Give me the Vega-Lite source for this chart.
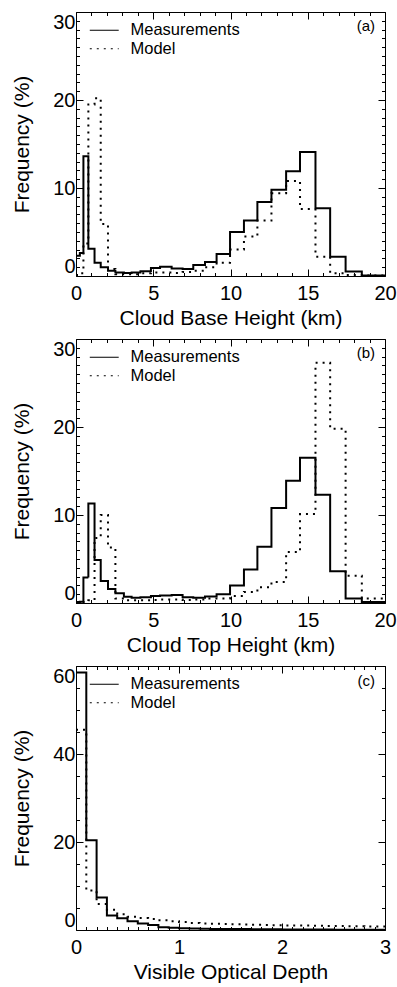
{
  "$schema": "https://vega.github.io/schema/vega-lite/v6.json",
  "background": "white",
  "padding": {"left": 11, "top": 10, "right": 5, "bottom": 2},
  "bounds": "flush",
  "spacing": 63,
  "config": {
    "font": "Liberation Sans",
    "view": {"stroke": null},
    "axis": {"grid": false, "domainColor": "black", "domainWidth": 1, "tickColor": "black", "tickWidth": 1, "labelColor": "black", "titleColor": "black", "labelFontSize": 20, "titleFontSize": 21, "titleFontWeight": "normal", "labelFlush": false, "labelOverlap": false, "format": "d"},
    "axisLeft": {"labelFlush": true, "labelFlushOffset": 0},
    "legend": {"orient": "none", "legendX": 20, "legendY": 10, "title": null, "symbolType": "M-3,0H3", "symbolSize": 93, "symbolStrokeWidth": 1.2, "symbolStrokeColor": "black", "symbolFillColor": "transparent", "labelFontSize": 16.5, "labelColor": "black", "labelOffset": 18, "rowPadding": 1.5, "padding": 0},
    "title": {"fontSize": 15, "fontWeight": "normal", "color": "black", "anchor": "end", "frame": "group", "dx": -10, "offset": -23.5}
  },
  "datasets": {
    "a_m": [
      {"s": "Measurements", "x": 0, "f": 2.3}, {"s": "Measurements", "x": 0.25, "f": 2.6}, {"s": "Measurements", "x": 0.48, "f": 13.6}, {"s": "Measurements", "x": 0.8, "f": 3.1}, {"s": "Measurements", "x": 1.2, "f": 1.5}, {"s": "Measurements", "x": 1.6, "f": 1.0}, {"s": "Measurements", "x": 2.07, "f": 0.6}, {"s": "Measurements", "x": 2.55, "f": 0.4}, {"s": "Measurements", "x": 3.1, "f": 0.35}, {"s": "Measurements", "x": 3.6, "f": 0.4}, {"s": "Measurements", "x": 4.17, "f": 0.55}, {"s": "Measurements", "x": 4.85, "f": 0.9}, {"s": "Measurements", "x": 5.44, "f": 1.05}, {"s": "Measurements", "x": 6.19, "f": 0.85}, {"s": "Measurements", "x": 6.9, "f": 0.8}, {"s": "Measurements", "x": 7.59, "f": 1.25}, {"s": "Measurements", "x": 8.35, "f": 1.6}, {"s": "Measurements", "x": 9.1, "f": 2.5}, {"s": "Measurements", "x": 9.97, "f": 5.0}, {"s": "Measurements", "x": 10.87, "f": 6.3}, {"s": "Measurements", "x": 11.74, "f": 8.4}, {"s": "Measurements", "x": 12.65, "f": 9.8}, {"s": "Measurements", "x": 13.6, "f": 11.9}, {"s": "Measurements", "x": 14.5, "f": 14.1}, {"s": "Measurements", "x": 15.5, "f": 7.7}, {"s": "Measurements", "x": 16.45, "f": 2.2}, {"s": "Measurements", "x": 17.45, "f": 0.5}, {"s": "Measurements", "x": 18.5, "f": 0.05}, {"s": "Measurements", "x": 20, "f": 0.05}
    ],
    "a_d": [
      {"s": "Model", "x": 0, "f": 0.1}, {"s": "Model", "x": 0.25, "f": 0.3}, {"s": "Model", "x": 0.48, "f": 3.7}, {"s": "Model", "x": 0.8, "f": 19.5}, {"s": "Model", "x": 1.2, "f": 20.2}, {"s": "Model", "x": 1.6, "f": 5.9}, {"s": "Model", "x": 2.07, "f": 0.8}, {"s": "Model", "x": 2.55, "f": 0.2}, {"s": "Model", "x": 3.1, "f": 0.2}, {"s": "Model", "x": 3.6, "f": 0.2}, {"s": "Model", "x": 4.17, "f": 0.3}, {"s": "Model", "x": 4.85, "f": 0.4}, {"s": "Model", "x": 5.44, "f": 0.4}, {"s": "Model", "x": 6.19, "f": 0.35}, {"s": "Model", "x": 6.9, "f": 0.45}, {"s": "Model", "x": 7.59, "f": 0.6}, {"s": "Model", "x": 8.35, "f": 1.0}, {"s": "Model", "x": 9.1, "f": 1.5}, {"s": "Model", "x": 9.97, "f": 3.0}, {"s": "Model", "x": 10.87, "f": 4.5}, {"s": "Model", "x": 11.74, "f": 6.3}, {"s": "Model", "x": 12.65, "f": 9.4}, {"s": "Model", "x": 13.6, "f": 10.8}, {"s": "Model", "x": 14.5, "f": 7.6}, {"s": "Model", "x": 15.5, "f": 2.2}, {"s": "Model", "x": 16.45, "f": 0.3}, {"s": "Model", "x": 17.45, "f": 0.1}, {"s": "Model", "x": 18.5, "f": 0.05}, {"s": "Model", "x": 20, "f": 0.05}
    ],
    "b_m": [
      {"s": "Measurements", "x": 0, "f": 0.1}, {"s": "Measurements", "x": 0.25, "f": 0.15}, {"s": "Measurements", "x": 0.48, "f": 2.9}, {"s": "Measurements", "x": 0.8, "f": 11.3}, {"s": "Measurements", "x": 1.2, "f": 4.9}, {"s": "Measurements", "x": 1.6, "f": 2.5}, {"s": "Measurements", "x": 2.07, "f": 1.6}, {"s": "Measurements", "x": 2.55, "f": 1.1}, {"s": "Measurements", "x": 3.1, "f": 0.7}, {"s": "Measurements", "x": 3.6, "f": 0.6}, {"s": "Measurements", "x": 4.17, "f": 0.65}, {"s": "Measurements", "x": 4.85, "f": 0.8}, {"s": "Measurements", "x": 5.44, "f": 0.85}, {"s": "Measurements", "x": 6.19, "f": 0.9}, {"s": "Measurements", "x": 6.9, "f": 0.65}, {"s": "Measurements", "x": 7.59, "f": 0.6}, {"s": "Measurements", "x": 8.35, "f": 0.75}, {"s": "Measurements", "x": 9.1, "f": 1.0}, {"s": "Measurements", "x": 9.97, "f": 2.0}, {"s": "Measurements", "x": 10.87, "f": 3.8}, {"s": "Measurements", "x": 11.74, "f": 6.4}, {"s": "Measurements", "x": 12.65, "f": 10.8}, {"s": "Measurements", "x": 13.6, "f": 13.9}, {"s": "Measurements", "x": 14.5, "f": 16.5}, {"s": "Measurements", "x": 15.5, "f": 12.3}, {"s": "Measurements", "x": 16.45, "f": 3.6}, {"s": "Measurements", "x": 17.45, "f": 0.5}, {"s": "Measurements", "x": 18.5, "f": 0.1}, {"s": "Measurements", "x": 20, "f": 0.1}
    ],
    "b_d": [
      {"s": "Model", "x": 0, "f": 0.05}, {"s": "Model", "x": 0.25, "f": 0.05}, {"s": "Model", "x": 0.48, "f": 0.1}, {"s": "Model", "x": 0.8, "f": 0.3}, {"s": "Model", "x": 1.2, "f": 7.4}, {"s": "Model", "x": 1.6, "f": 10.0}, {"s": "Model", "x": 2.07, "f": 6.3}, {"s": "Model", "x": 2.55, "f": 0.5}, {"s": "Model", "x": 3.1, "f": 0.3}, {"s": "Model", "x": 3.6, "f": 0.3}, {"s": "Model", "x": 4.17, "f": 0.3}, {"s": "Model", "x": 4.85, "f": 0.35}, {"s": "Model", "x": 5.44, "f": 0.4}, {"s": "Model", "x": 6.19, "f": 0.4}, {"s": "Model", "x": 6.9, "f": 0.35}, {"s": "Model", "x": 7.59, "f": 0.4}, {"s": "Model", "x": 8.35, "f": 0.5}, {"s": "Model", "x": 9.1, "f": 0.5}, {"s": "Model", "x": 9.97, "f": 0.8}, {"s": "Model", "x": 10.87, "f": 1.25}, {"s": "Model", "x": 11.74, "f": 1.8}, {"s": "Model", "x": 12.65, "f": 2.4}, {"s": "Model", "x": 13.6, "f": 5.8}, {"s": "Model", "x": 14.5, "f": 10.1}, {"s": "Model", "x": 15.5, "f": 27.3}, {"s": "Model", "x": 16.45, "f": 19.8}, {"s": "Model", "x": 17.45, "f": 3.1}, {"s": "Model", "x": 18.5, "f": 0.5}, {"s": "Model", "x": 20, "f": 0.5}
    ],
    "c_m": [
      {"s": "Measurements", "x": 0, "f": 58.5}, {"s": "Measurements", "x": 0.1, "f": 20.4}, {"s": "Measurements", "x": 0.2, "f": 7.4}, {"s": "Measurements", "x": 0.3, "f": 3.3}, {"s": "Measurements", "x": 0.4, "f": 2.65}, {"s": "Measurements", "x": 0.5, "f": 2.0}, {"s": "Measurements", "x": 0.6, "f": 1.5}, {"s": "Measurements", "x": 0.7, "f": 1.15}, {"s": "Measurements", "x": 0.8, "f": 0.65}, {"s": "Measurements", "x": 0.9, "f": 0.5}, {"s": "Measurements", "x": 1.0, "f": 0.4}, {"s": "Measurements", "x": 1.1, "f": 0.35}, {"s": "Measurements", "x": 1.2, "f": 0.3}, {"s": "Measurements", "x": 1.3, "f": 0.25}, {"s": "Measurements", "x": 1.4, "f": 0.25}, {"s": "Measurements", "x": 1.5, "f": 0.2}, {"s": "Measurements", "x": 1.6, "f": 0.2}, {"s": "Measurements", "x": 1.7, "f": 0.15}, {"s": "Measurements", "x": 1.8, "f": 0.15}, {"s": "Measurements", "x": 1.9, "f": 0.15}, {"s": "Measurements", "x": 2.0, "f": 0.1}, {"s": "Measurements", "x": 2.1, "f": 0.1}, {"s": "Measurements", "x": 2.2, "f": 0.1}, {"s": "Measurements", "x": 2.3, "f": 0.1}, {"s": "Measurements", "x": 2.4, "f": 0.1}, {"s": "Measurements", "x": 2.5, "f": 0.05}, {"s": "Measurements", "x": 2.6, "f": 0.05}, {"s": "Measurements", "x": 2.7, "f": 0.05}, {"s": "Measurements", "x": 2.8, "f": 0.05}, {"s": "Measurements", "x": 2.9, "f": 0.05}, {"s": "Measurements", "x": 3.0, "f": 0.05}
    ],
    "c_d": [
      {"s": "Model", "x": 0, "f": 45.5}, {"s": "Model", "x": 0.1, "f": 9.0}, {"s": "Model", "x": 0.2, "f": 5.9}, {"s": "Model", "x": 0.3, "f": 4.6}, {"s": "Model", "x": 0.4, "f": 3.6}, {"s": "Model", "x": 0.5, "f": 3.0}, {"s": "Model", "x": 0.6, "f": 2.7}, {"s": "Model", "x": 0.7, "f": 2.5}, {"s": "Model", "x": 0.8, "f": 2.2}, {"s": "Model", "x": 0.9, "f": 2.0}, {"s": "Model", "x": 1.0, "f": 1.8}, {"s": "Model", "x": 1.1, "f": 1.6}, {"s": "Model", "x": 1.2, "f": 1.5}, {"s": "Model", "x": 1.3, "f": 1.4}, {"s": "Model", "x": 1.4, "f": 1.35}, {"s": "Model", "x": 1.5, "f": 1.3}, {"s": "Model", "x": 1.6, "f": 1.25}, {"s": "Model", "x": 1.7, "f": 1.2}, {"s": "Model", "x": 1.8, "f": 1.15}, {"s": "Model", "x": 1.9, "f": 1.1}, {"s": "Model", "x": 2.0, "f": 1.05}, {"s": "Model", "x": 2.1, "f": 1.0}, {"s": "Model", "x": 2.2, "f": 1.0}, {"s": "Model", "x": 2.3, "f": 0.95}, {"s": "Model", "x": 2.4, "f": 0.9}, {"s": "Model", "x": 2.5, "f": 0.9}, {"s": "Model", "x": 2.6, "f": 0.85}, {"s": "Model", "x": 2.7, "f": 0.85}, {"s": "Model", "x": 2.8, "f": 0.8}, {"s": "Model", "x": 2.9, "f": 0.8}, {"s": "Model", "x": 3.0, "f": 0.8}
    ]
  },
  "resolve": {"scale": {"strokeDash": "independent"}, "legend": {"strokeDash": "independent"}},
  "vconcat": [
    {
      "width": 309, "height": 264,
      "title": {"text": "(a)"},
      "resolve": {"axis": {"x": "independent", "y": "independent"}},
      "layer": [
        {
          "data": {"name": "a_m"},
          "mark": {"type": "line", "interpolate": "step-after", "color": "black", "strokeWidth": 2, "strokeCap": "butt"},
          "encoding": {
            "x": {"field": "x", "type": "quantitative", "scale": {"domain": [0, 20], "nice": false, "zero": false},
                  "axis": {"orient": "bottom", "values": [0,1,2,3,4,5,6,7,8,9,10,11,12,13,14,15,16,17,18,19,20], "labelExpr": "datum.value % 5 === 0 ? datum.label : ''", "tickSize": {"condition": {"test": "datum.value % 5 === 0", "value": -7}, "value": -3.5}, "labelPadding": 14, "title": "Cloud Base Height (km)", "titlePadding": 1}},
            "y": {"field": "f", "type": "quantitative", "scale": {"domain": [0, 30], "nice": false},
                  "axis": {"orient": "left", "values": [0,1,2,3,4,5,6,7,8,9,10,11,12,13,14,15,16,17,18,19,20,21,22,23,24,25,26,27,28,29,30], "labelExpr": "datum.value % 10 === 0 ? datum.label : ''", "tickSize": {"condition": {"test": "datum.value % 10 === 0", "value": -7}, "value": -3.5}, "labelPadding": 8, "title": "Frequency (%)", "titlePadding": 20}},
            "strokeDash": {"field": "s", "type": "nominal", "scale": {"domain": ["Measurements", "Model"], "range": [[1, 0], [2, 5]]}}
          }
        },
        {
          "data": {"name": "a_d"},
          "mark": {"type": "line", "interpolate": "step-after", "color": "black", "strokeWidth": 2, "strokeCap": "butt"},
          "encoding": {
            "x": {"field": "x", "type": "quantitative", "scale": {"domain": [0, 20], "nice": false, "zero": false},
                  "axis": {"orient": "top", "values": [0,1,2,3,4,5,6,7,8,9,10,11,12,13,14,15,16,17,18,19,20], "labels": false, "title": null, "tickSize": {"condition": {"test": "datum.value % 5 === 0", "value": -7}, "value": -3.5}}},
            "y": {"field": "f", "type": "quantitative", "scale": {"domain": [0, 30], "nice": false},
                  "axis": {"orient": "right", "values": [0,1,2,3,4,5,6,7,8,9,10,11,12,13,14,15,16,17,18,19,20,21,22,23,24,25,26,27,28,29,30], "labels": false, "title": null, "tickSize": {"condition": {"test": "datum.value % 10 === 0", "value": -7}, "value": -3.5}}},
            "strokeDash": {"field": "s", "type": "nominal", "scale": {"domain": ["Measurements", "Model"], "range": [[1, 0], [2, 5]]}}
          }
        }
      ]
    },
    {
      "width": 309, "height": 264,
      "title": {"text": "(b)"},
      "resolve": {"axis": {"x": "independent", "y": "independent"}},
      "layer": [
        {
          "data": {"name": "b_m"},
          "mark": {"type": "line", "interpolate": "step-after", "color": "black", "strokeWidth": 2, "strokeCap": "butt"},
          "encoding": {
            "x": {"field": "x", "type": "quantitative", "scale": {"domain": [0, 20], "nice": false, "zero": false},
                  "axis": {"orient": "bottom", "values": [0,1,2,3,4,5,6,7,8,9,10,11,12,13,14,15,16,17,18,19,20], "labelExpr": "datum.value % 5 === 0 ? datum.label : ''", "tickSize": {"condition": {"test": "datum.value % 5 === 0", "value": -7}, "value": -3.5}, "labelPadding": 14, "title": "Cloud Top Height (km)", "titlePadding": 1}},
            "y": {"field": "f", "type": "quantitative", "scale": {"domain": [0, 30], "nice": false},
                  "axis": {"orient": "left", "values": [0,1,2,3,4,5,6,7,8,9,10,11,12,13,14,15,16,17,18,19,20,21,22,23,24,25,26,27,28,29,30], "labelExpr": "datum.value % 10 === 0 ? datum.label : ''", "tickSize": {"condition": {"test": "datum.value % 10 === 0", "value": -7}, "value": -3.5}, "labelPadding": 8, "title": "Frequency (%)", "titlePadding": 20}},
            "strokeDash": {"field": "s", "type": "nominal", "scale": {"domain": ["Measurements", "Model"], "range": [[1, 0], [2, 5]]}}
          }
        },
        {
          "data": {"name": "b_d"},
          "mark": {"type": "line", "interpolate": "step-after", "color": "black", "strokeWidth": 2, "strokeCap": "butt"},
          "encoding": {
            "x": {"field": "x", "type": "quantitative", "scale": {"domain": [0, 20], "nice": false, "zero": false},
                  "axis": {"orient": "top", "values": [0,1,2,3,4,5,6,7,8,9,10,11,12,13,14,15,16,17,18,19,20], "labels": false, "title": null, "tickSize": {"condition": {"test": "datum.value % 5 === 0", "value": -7}, "value": -3.5}}},
            "y": {"field": "f", "type": "quantitative", "scale": {"domain": [0, 30], "nice": false},
                  "axis": {"orient": "right", "values": [0,1,2,3,4,5,6,7,8,9,10,11,12,13,14,15,16,17,18,19,20,21,22,23,24,25,26,27,28,29,30], "labels": false, "title": null, "tickSize": {"condition": {"test": "datum.value % 10 === 0", "value": -7}, "value": -3.5}}},
            "strokeDash": {"field": "s", "type": "nominal", "scale": {"domain": ["Measurements", "Model"], "range": [[1, 0], [2, 5]]}}
          }
        }
      ]
    },
    {
      "width": 309, "height": 264,
      "title": {"text": "(c)"},
      "resolve": {"axis": {"x": "independent", "y": "independent"}},
      "layer": [
        {
          "data": {"name": "c_m"},
          "mark": {"type": "line", "interpolate": "step-after", "color": "black", "strokeWidth": 2, "strokeCap": "butt"},
          "encoding": {
            "x": {"field": "x", "type": "quantitative", "scale": {"domain": [0, 3], "nice": false, "zero": false},
                  "axis": {"orient": "bottom", "values": [0,0.1,0.2,0.3,0.4,0.5,0.6,0.7,0.8,0.9,1,1.1,1.2,1.3,1.4,1.5,1.6,1.7,1.8,1.9,2,2.1,2.2,2.3,2.4,2.5,2.6,2.7,2.8,2.9,3], "labelExpr": "abs(datum.value - round(datum.value)) < 0.001 ? format(datum.value, 'd') : ''", "tickSize": {"condition": {"test": "abs(datum.value - round(datum.value)) < 0.001", "value": -7}, "value": -3.5}, "labelPadding": 14, "title": "Visible Optical Depth", "titlePadding": 1}},
            "y": {"field": "f", "type": "quantitative", "scale": {"domain": [0, 60], "nice": false},
                  "axis": {"orient": "left", "values": [0,5,10,15,20,25,30,35,40,45,50,55,60], "labelExpr": "datum.value % 20 === 0 ? datum.label : ''", "tickSize": {"condition": {"test": "datum.value % 20 === 0", "value": -7}, "value": -3.5}, "labelPadding": 8, "title": "Frequency (%)", "titlePadding": 20}},
            "strokeDash": {"field": "s", "type": "nominal", "scale": {"domain": ["Measurements", "Model"], "range": [[1, 0], [2, 5]]}}
          }
        },
        {
          "data": {"name": "c_d"},
          "mark": {"type": "line", "interpolate": "step-after", "color": "black", "strokeWidth": 2, "strokeCap": "butt"},
          "encoding": {
            "x": {"field": "x", "type": "quantitative", "scale": {"domain": [0, 3], "nice": false, "zero": false},
                  "axis": {"orient": "top", "values": [0,0.1,0.2,0.3,0.4,0.5,0.6,0.7,0.8,0.9,1,1.1,1.2,1.3,1.4,1.5,1.6,1.7,1.8,1.9,2,2.1,2.2,2.3,2.4,2.5,2.6,2.7,2.8,2.9,3], "labels": false, "title": null, "tickSize": {"condition": {"test": "abs(datum.value - round(datum.value)) < 0.001", "value": -7}, "value": -3.5}}},
            "y": {"field": "f", "type": "quantitative", "scale": {"domain": [0, 60], "nice": false},
                  "axis": {"orient": "right", "values": [0,5,10,15,20,25,30,35,40,45,50,55,60], "labels": false, "title": null, "tickSize": {"condition": {"test": "datum.value % 20 === 0", "value": -7}, "value": -3.5}}},
            "strokeDash": {"field": "s", "type": "nominal", "scale": {"domain": ["Measurements", "Model"], "range": [[1, 0], [2, 5]]}}
          }
        }
      ]
    }
  ]
}
